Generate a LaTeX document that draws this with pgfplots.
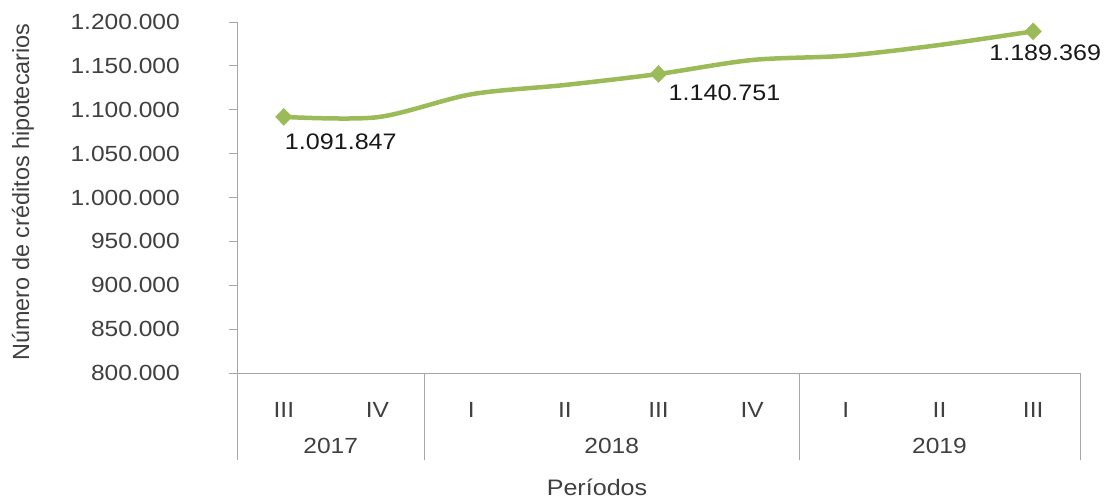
\documentclass[border=0pt]{standalone}
\usepackage{pgfplots}
\pgfplotsset{compat=1.18}
\usepackage{fontspec}
\setmainfont{Liberation Sans}[FakeStretch=1.12]
\newfontfamily\plainfont{Liberation Sans}
\definecolor{lgreen}{HTML}{9BBB59}
\definecolor{txt}{HTML}{404040}
\definecolor{axgray}{HTML}{A6A6A6}
\begin{document}
\begin{tikzpicture}[x=1bp,y=1bp]
\begin{axis}[
  at={(0,0)}, anchor=south west,
  scale only axis, width=843bp, height=351bp,
  xmin=-0.5, xmax=8.5, ymin=800000, ymax=1200000,
  axis lines*=left,
  axis line style={axgray, line width=0.9bp},
  clip=false,
  xtick={0,1,2,3,4,5,6,7,8},
  xticklabels={III,IV,I,II,III,IV,I,II,III},
  x tick style={draw=none},
  xticklabel style={anchor=center, inner sep=0pt, yshift=-29bp, font=\fontsize{22}{26}\selectfont, text=txt},
  ytick={800000,850000,...,1200000},
  y tick style={axgray, line width=0.9bp},
  tick align=outside, major tick length=8bp,
  scaled y ticks=false,
  /pgf/number format/assume math mode=true,
  /pgf/number format/.cd, fixed, precision=0, 1000 sep={.}, /pgfplots/.cd,
  yticklabel style={anchor=east, inner sep=0pt, xshift=-49bp, font=\fontsize{22}{26}\selectfont, text=txt},
]
\addplot[lgreen, line width=4.5bp, smooth, tension=0.5] coordinates {
  (0,1091847) (1,1091500) (2,1117600) (3,1128200) (4,1140751)
  (5,1156700) (6,1161600) (7,1173800) (8,1189369)};
\addplot[only marks, mark=diamond*, mark size=8.5bp, lgreen, mark options={fill=lgreen, draw=lgreen, xscale=1.3}] coordinates {
  (0,1091847) (4,1140751) (8,1189369)};
\node[anchor=center, font=\fontsize{22.5}{26}\selectfont, text=black!90] at (axis cs:0,1091847) [xshift=57bp, yshift=-25bp] {1.091.847};
\node[anchor=center, font=\fontsize{22.5}{26}\selectfont, text=black!90] at (axis cs:4,1140751) [xshift=66bp, yshift=-19bp] {1.140.751};
\node[anchor=center, font=\fontsize{22.5}{26}\selectfont, text=black!90] at (axis cs:8,1189369) [xshift=12bp, yshift=-21bp] {1.189.369};
% group separators
\draw[axgray, line width=0.9bp] (axis cs:-0.5,800000) -- ([yshift=-87bp]axis cs:-0.5,800000);
\draw[axgray, line width=0.9bp] (axis cs:1.5,800000) -- ([yshift=-87bp]axis cs:1.5,800000);
\draw[axgray, line width=0.9bp] (axis cs:5.5,800000) -- ([yshift=-87bp]axis cs:5.5,800000);
\draw[axgray, line width=0.9bp] (axis cs:8.5,800000) -- ([yshift=-87bp]axis cs:8.5,800000);
\node[font=\fontsize{22}{26}\selectfont, text=txt] at (axis cs:0.5,800000) [yshift=-73bp] {2017};
\node[font=\fontsize{22}{26}\selectfont, text=txt] at (axis cs:3.5,800000) [yshift=-73bp] {2018};
\node[font=\fontsize{22}{26}\selectfont, text=txt] at (axis cs:7,800000) [yshift=-73bp] {2019};
\end{axis}
\node[font=\fontsize{22.5}{26}\selectfont, text=txt] at (360,-114) {Períodos};
\node[rotate=90, font=\plainfont\fontsize{23.5}{27}\selectfont, text=txt] at (-214,181) {Número de créditos hipotecarios};
\pgfresetboundingbox
\path[use as bounding box] (-237,-127) rectangle (870,373);
\end{tikzpicture}
\end{document}
